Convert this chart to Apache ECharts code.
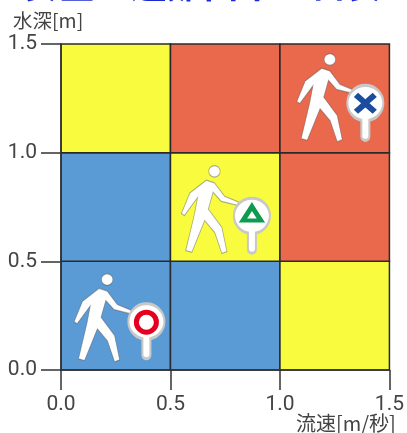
<!DOCTYPE html>
<html><head><meta charset="utf-8">
<style>html,body{margin:0;padding:0;background:#fff}#c{width:407px;height:433px}</style>
<script src="https://cdn.jsdelivr.net/npm/echarts@6/dist/echarts.min.js"></script>
</head><body><div id="c"></div>
<script>
const titleText = '安全に避難出来る目安';
const yName = '水深[m]';
const xName = '流速[m/秒]';
const blue = '#5B9BD5', yellow = '#F9FC3E', red = '#EA694C';
// x0, x1, y0, y1, colour
const cells = [
  [0, 0.5, 0, 0.5, blue], [0.5, 1, 0, 0.5, blue], [1, 1.5, 0, 0.5, yellow],
  [0, 0.5, 0.5, 1, blue], [0.5, 1, 0.5, 1, yellow], [1, 1.5, 0.5, 1, red],
  [0, 0.5, 1, 1.5, yellow], [0.5, 1, 1, 1.5, red], [1, 1.5, 1, 1.5, red]
];
const walkers = [[0.19, 0.24], [0.68, 0.738], [1.207, 1.253]];
const signs = [[0.39, 0.178], [0.872, 0.664], [1.39, 1.183]];
const okMark = [[0.39, 0.22]];
const cautionMark = [[0.872, 0.72]];
const dangerMark = [[1.39, 1.227]];

const walkerPath = 'path://M155 60a17 17 0 1 0 34 0a17 17 0 1 0 -34 0ZM148 86L172 94L202 134L243 151L240 161L192 149L168 122L154 172L194 226L209 298L194 304L173 242L143 206L105 300L87 295L112 190L122 138L83 191L74 185L99 124Z';
const signPath = 'path://M0 18a18 18 0 1 1 36 0a18 18 0 0 1 -14 17.5L22 52a4 4 0 0 1 -8 0L14 35.5a18 18 0 0 1 -14 -17.5Z';
const crossPath = 'path://M0 4L4 0L11 6L18 0L22 4L15 10L22 16L18 20L11 14L4 20L0 16L7 10Z';

const chart = echarts.init(document.getElementById('c'), null, {renderer: 'canvas'});
const font = 'Roboto,"Noto Sans",sans-serif';
const tickColor = '#333';
const labelStyle = {fontFamily: font, fontSize: 21, color: '#444'};
chart.setOption({
  animation: false,
  title: {
    text: titleText, left: 203, top: -34, textAlign: 'center', padding: 0,
    textStyle: {fontFamily: '"Noto Sans CJK JP"', fontWeight: 'bold', fontSize: 36, color: '#1B2BD0'}
  },
  grid: {left: 61, right: 17, top: 44, bottom: 63},
  xAxis: {
    type: 'value', min: 0, max: 1.5, interval: 0.5, z: 5,
    splitLine: {show: false},
    axisLine: {lineStyle: {color: tickColor, width: 1.5}},
    axisTick: {length: 20, lineStyle: {color: tickColor, width: 1.5}},
    axisLabel: Object.assign({margin: 24, formatter: v => v.toFixed(1), showMinLabel: true, showMaxLabel: true}, labelStyle)
  },
  yAxis: {
    type: 'value', min: 0, max: 1.5, interval: 0.5, z: 5,
    splitLine: {show: false},
    axisLine: {lineStyle: {color: tickColor, width: 1.5}},
    axisTick: {length: 20, lineStyle: {color: tickColor, width: 1.5}},
    axisLabel: Object.assign({margin: 24, verticalAlign: 'middle', padding: [0, 0, 5, 0], formatter: v => v.toFixed(1), showMinLabel: true, showMaxLabel: true, lineHeight: 21}, labelStyle)
  },
  graphic: [
    {type: 'text', left: 13, top: 11, style: {text: yName, font: '19.5px "Noto Sans CJK JP"', fill: '#444'}},
    {type: 'text', left: 296, top: 413, style: {text: xName, font: '20px "Noto Sans CJK JP"', fill: '#444'}}
  ],
  series: [
    {
      type: 'custom', z: 1, data: cells, silent: true,
      encode: {x: [0, 1], y: [2, 3]},
      renderItem(params, api) {
        const a = api.coord([api.value(0), api.value(2)]);
        const b = api.coord([api.value(1), api.value(3)]);
        return {
          type: 'rect',
          shape: {x: a[0], y: b[1], width: b[0] - a[0], height: a[1] - b[1]},
          style: {fill: cells[params.dataIndex][4], stroke: '#2a2a2a', lineWidth: 1.5}
        };
      }
    },
    {
      type: 'scatter', z: 2, data: walkers, symbol: walkerPath, symbolSize: [57, 88],
      symbolKeepAspect: false, silent: true,
      itemStyle: {color: '#fff', opacity: 1, borderColor: 'rgba(80,80,80,0.45)', borderWidth: 1}
    },
    {
      type: 'scatter', z: 3, data: signs, symbol: signPath, symbolSize: [36, 55], silent: true,
      itemStyle: {color: '#fff', opacity: 1, borderColor: '#c8c8c8', borderWidth: 2.5}
    },
    {
      type: 'scatter', z: 4, data: okMark, symbol: 'circle', symbolSize: 20, silent: true,
      itemStyle: {color: '#fff', opacity: 1, borderColor: '#E60020', borderWidth: 5}
    },
    {
      type: 'scatter', z: 4, data: cautionMark, symbol: 'triangle', symbolSize: [18, 14], silent: true,
      itemStyle: {color: '#fff', opacity: 1, borderColor: '#0E9A4F', borderWidth: 4.5}
    },
    {
      type: 'scatter', z: 4, data: dangerMark, symbol: crossPath, symbolSize: [23, 21], silent: true,
      itemStyle: {color: '#1C4CA0', opacity: 1}
    }
  ]
});
</script></body></html>
